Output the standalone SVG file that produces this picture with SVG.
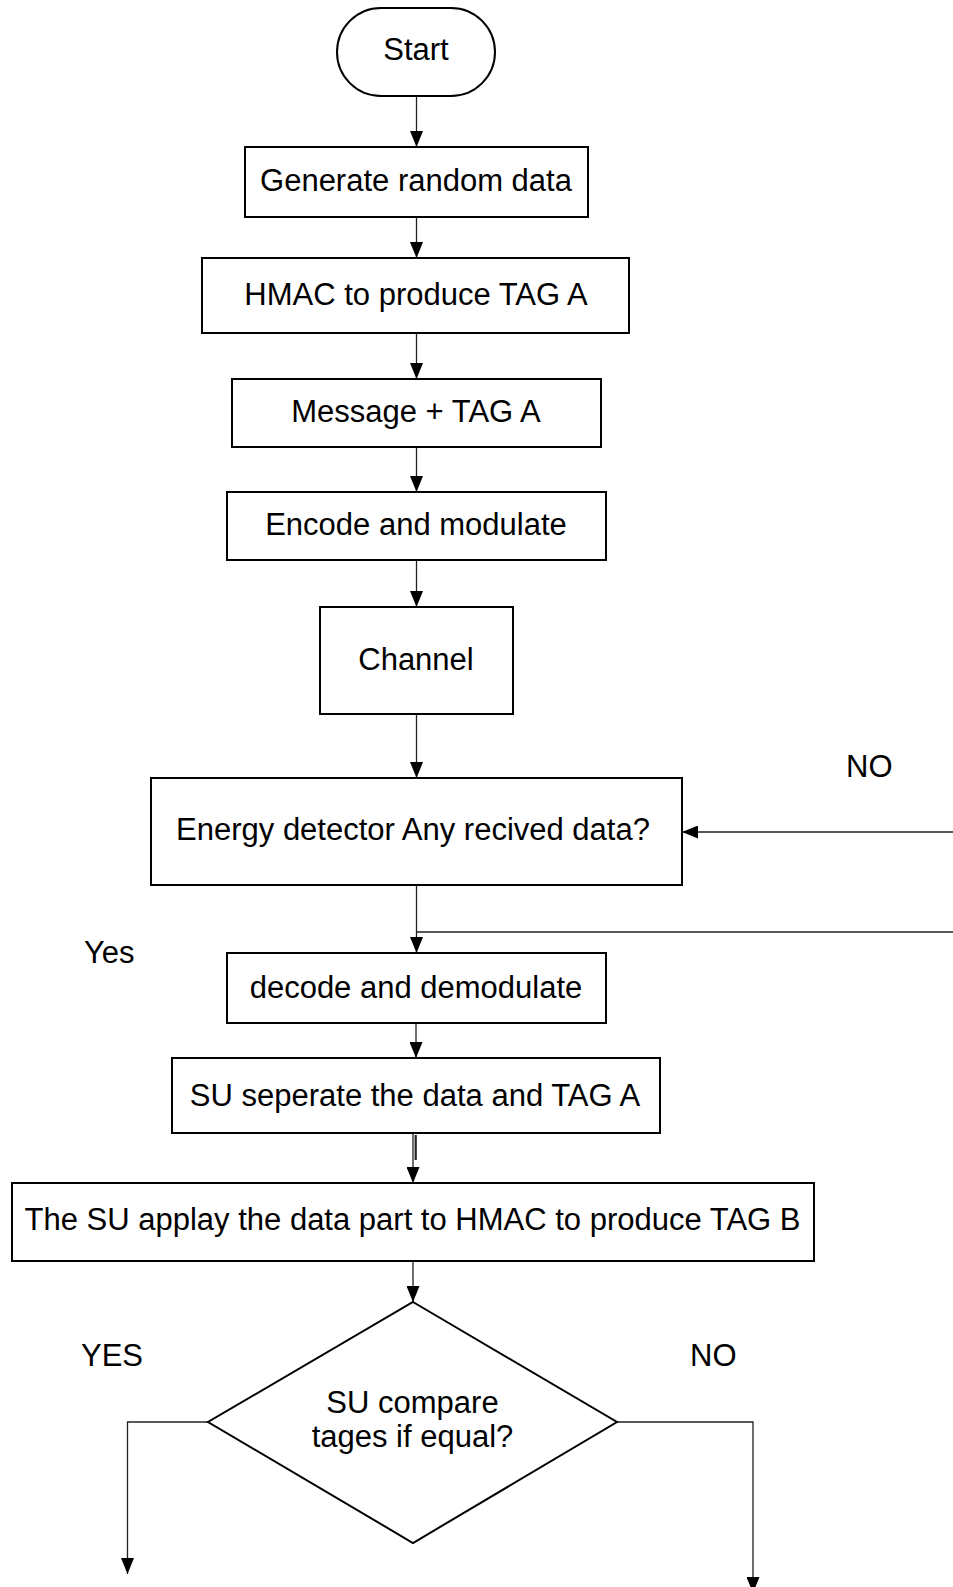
<svg xmlns="http://www.w3.org/2000/svg" width="953" height="1587" viewBox="0 0 953 1587">
<style>
.box{fill:#fff;stroke:#000;stroke-width:2}
.t{font-family:"Liberation Sans",Arial,sans-serif;font-size:31px;fill:#000;text-anchor:middle}
.lbl{font-family:"Liberation Sans",Arial,sans-serif;font-size:31px;fill:#000}
.c{fill:none;stroke:#222;stroke-width:1.3}
</style>
<defs>
<marker id="ah" markerUnits="userSpaceOnUse" markerWidth="16" markerHeight="13" refX="16" refY="6.5" orient="auto">
<path d="M0,0 L16,6.5 L0,13 z" fill="#000"/>
</marker>
</defs>
<rect width="953" height="1587" fill="#fff"/>
<g id="connectors">
<line class="c" x1="416.5" y1="96" x2="416.5" y2="147" marker-end="url(#ah)"/>
<line class="c" x1="416.5" y1="217" x2="416.5" y2="258" marker-end="url(#ah)"/>
<line class="c" x1="416.5" y1="333" x2="416.5" y2="379" marker-end="url(#ah)"/>
<line class="c" x1="416.5" y1="447" x2="416.5" y2="492" marker-end="url(#ah)"/>
<line class="c" x1="416.5" y1="560" x2="416.5" y2="607" marker-end="url(#ah)"/>
<line class="c" x1="416.5" y1="714" x2="416.5" y2="778" marker-end="url(#ah)"/>
<line class="c" x1="416.5" y1="885" x2="416.5" y2="953" marker-end="url(#ah)"/>
<line class="c" x1="953" y1="832" x2="682" y2="832" marker-end="url(#ah)"/>
<line class="c" x1="416.5" y1="932" x2="953" y2="932"/>
<line class="c" x1="416" y1="1023" x2="416" y2="1058" marker-end="url(#ah)"/>
<line class="c" x1="413" y1="1133" x2="413" y2="1183" marker-end="url(#ah)"/>
<line x1="415.7" y1="1135" x2="415.7" y2="1160" stroke="#222" stroke-width="2.2"/>
<line class="c" x1="413" y1="1261" x2="413" y2="1302" marker-end="url(#ah)"/>
<polyline class="c" points="208,1422 127.5,1422 127.5,1574" marker-end="url(#ah)"/>
<polyline class="c" points="617,1422 753,1422 753,1593" marker-end="url(#ah)"/>
</g>
<g id="start">
<rect class="box" x="337" y="8" width="158" height="88" rx="44" ry="44"/>
<text class="t" x="416" y="60">Start</text>
</g>
<g id="generate">
<rect class="box" x="245" y="147" width="343" height="70"/>
<text class="t" x="416" y="191">Generate random data</text>
</g>
<g id="hmac">
<rect class="box" x="202" y="258" width="427" height="75"/>
<text class="t" x="416" y="305">HMAC to produce TAG A</text>
</g>
<g id="message">
<rect class="box" x="232" y="379" width="369" height="68"/>
<text class="t" x="416" y="422">Message + TAG A</text>
</g>
<g id="encode">
<rect class="box" x="227" y="492" width="379" height="68"/>
<text class="t" x="416" y="535">Encode and modulate</text>
</g>
<g id="channel">
<rect class="box" x="320" y="607" width="193" height="107"/>
<text class="t" x="416" y="670">Channel</text>
</g>
<g id="energy">
<rect class="box" x="151" y="778" width="531" height="107"/>
<text class="t" x="413" y="840">Energy detector Any recived data?</text>
</g>
<g id="decode">
<rect class="box" x="227" y="953" width="379" height="70"/>
<text class="t" x="416" y="998">decode and demodulate</text>
</g>
<g id="separate">
<rect class="box" x="172" y="1058" width="488" height="75"/>
<text class="t" x="415" y="1106">SU seperate the data and TAG A</text>
</g>
<g id="applay">
<rect class="box" x="12" y="1183" width="802" height="78"/>
<text class="t" x="412.5" y="1230">The SU applay the data part to HMAC to produce TAG B</text>
</g>
<g id="compare">
<polygon class="box" points="413,1302 617,1422 413,1543 208,1422"/>
<text class="t" x="412.5" y="1413">SU compare</text>
<text class="t" x="412.5" y="1447">tages if equal?</text>
</g>
<g id="labels">
<text class="lbl" x="846" y="777">NO</text>
<text class="lbl" x="84" y="963">Yes</text>
<text class="lbl" x="81" y="1366">YES</text>
<text class="lbl" x="690" y="1366">NO</text>
</g>
</svg>
